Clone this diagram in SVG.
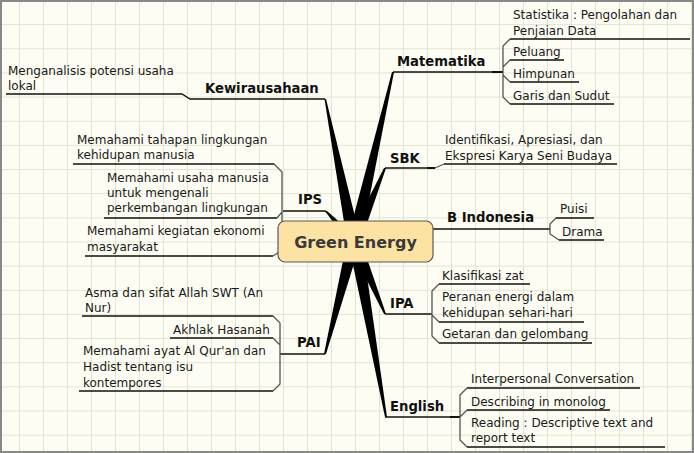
<svg xmlns="http://www.w3.org/2000/svg" width="694" height="453" viewBox="0 0 694 453">
<defs>
<pattern id="grid" x="19" y="0" width="24" height="24.15" patternUnits="userSpaceOnUse">
<path d="M0.5 0 V24.15 M0 0.5 H24" fill="none" stroke="#e3e3d4" stroke-width="1"/>
</pattern>
</defs>
<style>
.c{font-family:"DejaVu Sans",sans-serif;font-size:12px;fill:#1a1a1a}
.t{font-family:"DejaVu Sans",sans-serif;font-size:13.2px;font-weight:bold;fill:#111}
.u{fill:none;stroke:#111;stroke-width:1.3}
.b{fill:none;stroke:#555;stroke-width:1.3}
.w{fill:#000}
</style>
<rect x="0" y="0" width="694" height="453" fill="#fdfdf3"/>
<rect x="0" y="0" width="694" height="453" fill="url(#grid)"/>
<rect x="1" y="1" width="692" height="451" fill="none" stroke="#888" stroke-width="2"/>

<g id="connectors">
<polygon class="w" points="324.5,99 326,99 361,241 347,241"/>
<polygon class="w" points="392,72 394,72 361,241 347,241"/>
<polygon class="w" points="384,168 386,168 361,241 347,241"/>
<polygon class="w" points="325,211 327,211 361,241 347,241"/>
<polygon class="w" points="324,354 326,354 361,241 347,241"/>
<polygon class="w" points="384,314 386,314 361,241 347,241"/>
<polygon class="w" points="385,417 387,417 362,241 348,241"/>
<!-- Kewirausahaan -->
<path class="u" d="M6 94 H182 L190 99 H325"/>
<!-- IPS -->
<path class="u" d="M283 211 H325 L335 219"/>
<path class="u" d="M73 164 H274 M104 218 H277 M85 256 H273"/>
<path class="b" d="M274 164 L282 172 V250 L273 256 M277 218 L282 212"/>
<!-- PAI -->
<path class="u" d="M280 354 H325"/>
<path class="u" d="M82 316 H273 M170 338 H273 M79 391 H273"/>
<path class="b" d="M273 316 L280 323 V384 L273 391 M273 338 L280 345"/>
<!-- Matematika -->
<path class="u" d="M393 72 H492"/>
<path fill="none" stroke="#111" stroke-width="2" d="M492 72 H503"/>
<path class="u" d="M510 39 H690 M510 60 H564 M510 82 H579 M510 104 H614"/>
<path class="b" d="M510 39 L503 46 V97 L510 104 M510 60 L503 67 M503 75 L510 82"/>
<!-- SBK -->
<path class="u" d="M385 168 H427"/>
<path fill="none" stroke="#111" stroke-width="2" d="M427 168 H435"/>
<path class="b" d="M435 168 L444 164"/>
<path class="u" d="M444 164 H617"/>
<!-- B Indonesia -->
<path class="u" d="M433 229 H550"/>
<path class="u" d="M556 218 H594 M559 240 H604"/>
<path class="b" d="M556 218 L550 224 V234 L559 240"/>
<!-- IPA -->
<path class="u" d="M385 314 H432"/>
<path class="u" d="M439 284 H530 M439 322 H584 M439 343 H592"/>
<path class="b" d="M439 284 L432 291 V336 L439 343 M432 315 L439 322"/>
<!-- English -->
<path class="u" d="M385 417 H450"/>
<path fill="none" stroke="#111" stroke-width="2" d="M450 417 H460"/>
<path class="u" d="M467 388 H640 M467 410 H610 M467 447 H665"/>
<path class="b" d="M467 388 L460 395 V440 L467 447 M460 417 L467 410"/>
</g>

<g id="center">
<rect x="278" y="221" width="155" height="41" rx="7" fill="#fce3a3" stroke="#5a5a5a" stroke-width="1.2"/>
<text x="355.5" y="248" text-anchor="middle" font-family="DejaVu Sans, sans-serif" font-size="16" font-weight="bold" fill="#3a3a3a">Green Energy</text>
</g>

<g id="kewirausahaan">
<text class="t" x="205" y="93">Kewirausahaan</text>
<text class="c" x="8" y="75">Menganalisis potensi usaha<tspan x="8" y="90">lokal</tspan></text>
</g>

<g id="ips">
<text class="t" x="298" y="204">IPS</text>
<text class="c" x="77" y="144">Memahami tahapan lingkungan<tspan x="77" y="159">kehidupan manusia</tspan></text>
<text class="c" x="107" y="182">Memahami usaha manusia<tspan x="107" y="197">untuk mengenali</tspan><tspan x="107" y="212">perkembangan lingkungan</tspan></text>
<text class="c" x="87" y="235">Memahami kegiatan ekonomi<tspan x="87" y="251">masyarakat</tspan></text>
</g>

<g id="pai">
<text class="t" x="297" y="347">PAI</text>
<text class="c" x="85" y="297">Asma dan sifat Allah SWT (An<tspan x="85" y="312">Nur)</tspan></text>
<text class="c" x="173" y="334">Akhlak Hasanah</text>
<text class="c" x="83" y="355">Memahami ayat Al Qur'an dan<tspan x="83" y="371">Hadist tentang isu</tspan><tspan x="83" y="387">kontempores</tspan></text>
</g>

<g id="matematika">
<text class="t" x="397" y="66">Matematika</text>
<text class="c" x="513" y="19">Statistika : Pengolahan dan<tspan x="513" y="35">Penjaian Data</tspan></text>
<text class="c" x="513" y="56">Peluang</text>
<text class="c" x="513" y="78">Himpunan</text>
<text class="c" x="513" y="100">Garis dan Sudut</text>
</g>

<g id="sbk">
<text class="t" x="390" y="163">SBK</text>
<text class="c" x="445" y="144">Identifikasi, Apresiasi, dan<tspan x="445" y="160">Ekspresi Karya Seni Budaya</tspan></text>
</g>

<g id="bindonesia">
<text class="t" x="447" y="222">B Indonesia</text>
<text class="c" x="560" y="213">Puisi</text>
<text class="c" x="562" y="236">Drama</text>
</g>

<g id="ipa">
<text class="t" x="390" y="308">IPA</text>
<text class="c" x="442" y="280">Klasifikasi zat</text>
<text class="c" x="442" y="301">Peranan energi dalam<tspan x="442" y="317">kehidupan sehari-hari</tspan></text>
<text class="c" x="442" y="338">Getaran dan gelombang</text>
</g>

<g id="english">
<text class="t" x="390" y="411">English</text>
<text class="c" x="471" y="383">Interpersonal Conversation</text>
<text class="c" x="471" y="406">Describing in monolog</text>
<text class="c" x="471" y="427">Reading : Descriptive text and<tspan x="471" y="442">report text</tspan></text>
</g>
</svg>
